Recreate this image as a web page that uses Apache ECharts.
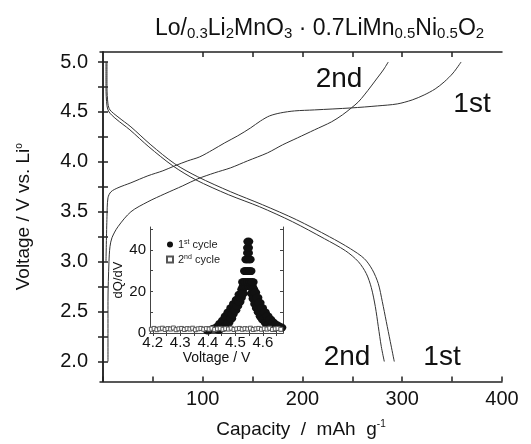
<!DOCTYPE html>
<html>
<head>
    <meta charset="utf-8" />
    <script src="https://cdn.jsdelivr.net/npm/echarts@6/dist/echarts.min.js"></script>
</head>
<body style="margin:0">
    <div id="main" style="width:531px;height:444px;"></div>
    <script type="text/javascript">
        // main panel: voltage (V) vs capacity (mAh/g), [capacity, voltage]
        var charge1st = [[3, 3.0], [4, 3.45], [5, 3.64], [8, 3.70], [15, 3.74], [28, 3.79], [45, 3.86], [60, 3.91], [72, 3.96],
            [85, 4.01], [97, 4.05], [110, 4.12], [122, 4.19], [135, 4.26], [148, 4.34], [158, 4.41], [167, 4.46], [178, 4.49],
            [192, 4.51], [212, 4.52], [249, 4.54], [275, 4.56], [295, 4.58], [310, 4.62], [322, 4.67], [333, 4.73], [342, 4.80],
            [351, 4.89], [359, 5.0]];
        var charge2nd = [[5, 2.0], [5, 2.6], [6, 3.0], [7, 3.15], [9, 3.24], [15, 3.35], [28, 3.50], [45, 3.60], [62, 3.68],
            [80, 3.76], [95, 3.83], [112, 3.89], [128, 3.94], [145, 4.01], [165, 4.09], [180, 4.17], [195, 4.24], [212, 4.32],
            [229, 4.40], [240, 4.47], [249, 4.54], [256, 4.60], [262, 4.67], [269, 4.76], [275, 4.84], [281, 4.92], [286, 5.0]];
        var discharge1st = [[4, 5.0], [4, 4.75], [5, 4.58], [7, 4.52], [15, 4.45], [28, 4.35], [48, 4.17], [72, 3.98], [95, 3.85],
            [128, 3.70], [160, 3.57], [194, 3.42], [227, 3.25], [248, 3.13], [262, 3.03], [270, 2.92], [276, 2.78], [280, 2.6],
            [284, 2.4], [288, 2.2], [292, 2.0]];
        var discharge2nd = [[3, 5.0], [3, 4.75], [4, 4.56], [6, 4.50], [13, 4.43], [27, 4.32], [46, 4.15], [70, 3.96], [93, 3.82],
            [126, 3.67], [157, 3.55], [190, 3.40], [222, 3.23], [243, 3.11], [256, 3.00], [264, 2.88], [269, 2.74], [273, 2.55],
            [276, 2.35], [279, 2.15], [282, 2.0]];

        // inset: dQ/dV vs voltage, [voltage, dQ/dV]
        var dqdv1st = [
            [4.40, 1.2], [4.42, 2.0], [4.435, 3.0], [4.445, 4.5], [4.455, 6.0], [4.465, 8.0], [4.475, 10.0], [4.485, 12.0],
            [4.495, 14.0], [4.505, 16.0], [4.515, 18.5], [4.525, 21.0],
            [4.44, 1.5], [4.455, 2.5], [4.465, 3.5], [4.475, 5.0], [4.485, 7.0], [4.49, 9.0], [4.50, 11.0], [4.507, 13.0],
            [4.515, 15.0], [4.52, 17.0], [4.527, 19.0],
            [4.53, 22.5], [4.54, 22.5], [4.55, 22.5], [4.56, 22.5],
            [4.528, 24.5], [4.537, 24.5], [4.546, 24.5], [4.555, 24.5], [4.563, 24.5],
            [4.535, 29.8], [4.545, 29.8], [4.555, 29.8],
            [4.54, 35.4], [4.552, 35.4],
            [4.546, 38.5], [4.546, 41.0], [4.547, 44.0],
            [4.56, 19.0], [4.566, 16.5], [4.572, 14.0], [4.578, 12.0], [4.585, 10.0], [4.592, 8.0], [4.60, 6.5], [4.61, 5.0],
            [4.62, 4.0], [4.63, 3.0], [4.64, 2.5],
            [4.565, 21.0], [4.572, 19.5], [4.58, 17.0], [4.588, 14.5], [4.597, 12.0], [4.607, 10.0], [4.617, 8.0], [4.627, 6.5],
            [4.637, 5.0], [4.647, 4.0], [4.657, 3.2], [4.667, 2.6]
        ];
        var dqdv2nd = [
            [4.195, 1.8], [4.205, 2.2], [4.215, 1.6], [4.225, 2.0], [4.235, 2.3], [4.245, 1.7], [4.255, 2.1], [4.265, 1.9],
            [4.275, 2.4], [4.285, 1.6], [4.295, 2.0], [4.305, 2.2], [4.315, 1.7], [4.325, 2.1], [4.335, 1.9], [4.345, 2.3],
            [4.355, 1.6], [4.365, 2.0], [4.375, 2.2], [4.385, 1.8], [4.395, 2.1], [4.405, 1.9], [4.415, 2.3], [4.425, 1.7],
            [4.435, 2.0], [4.445, 2.2], [4.455, 1.8], [4.465, 2.1], [4.475, 1.9], [4.485, 2.3], [4.495, 1.7], [4.505, 2.0],
            [4.515, 2.2], [4.525, 1.8], [4.535, 2.1], [4.545, 1.9], [4.555, 2.3], [4.565, 1.7], [4.575, 2.0], [4.585, 2.2],
            [4.595, 1.8], [4.605, 2.1], [4.615, 1.9], [4.625, 2.3], [4.635, 1.7], [4.645, 2.0], [4.655, 2.2], [4.665, 1.8]
        ];

        // ticks / labels
        var capTicksBottom = [0, 50, 100, 150, 200, 250, 300, 350, 400];
        var capTicksTop = [100, 150, 200, 250, 300, 350];
        var capLabels = [100, 200, 300, 400];
        var voltTicks = [2.0, 2.25, 2.5, 2.75, 3.0, 3.25, 3.5, 3.75, 4.0, 4.25, 4.5, 4.75, 5.0];
        var voltLabels = [2.0, 2.5, 3.0, 3.5, 4.0, 4.5, 5.0];
        var insetVTicks = [4.2, 4.25, 4.3, 4.35, 4.4, 4.45, 4.5, 4.55, 4.6, 4.65];
        var insetVLabels = [4.2, 4.3, 4.4, 4.5, 4.6];
        var insetQTicks = [0, 10, 20, 30, 40, 50];
        var insetQLabels = [0, 20, 40];

        var FONT = 'Liberation Sans, Arial, sans-serif';
        var INK = '#222';
        var axisLineStyle = { color: INK, width: 1.5 };

        var myChart = echarts.init(document.getElementById('main'));

        var mainLine = function (name, data) {
            return {
                name: name, type: 'line', xAxisIndex: 0, yAxisIndex: 0,
                data: data, showSymbol: false, smooth: 0.3,
                lineStyle: { color: '#333', width: 1 }, z: 3
            };
        };

        var option = {
            animation: false,
            backgroundColor: '#fff',
            textStyle: { fontFamily: FONT },
            title: {
                text: '{n|Lo/}{s|0.3}{n|Li}{s|2}{n|MnO}{s|3}{n| · 0.7LiMn}{s|0.5}{n|Ni}{s|0.5}{n|O}{s|2}',
                left: 150,
                top: 11,
                textStyle: {
                    fontWeight: 'normal',
                    rich: {
                        n: { fontSize: 23, lineHeight: 25, color: '#111', fontFamily: FONT, fontWeight: 'normal' },
                        s: { fontSize: 15, lineHeight: 14, verticalAlign: 'bottom', color: '#111', fontFamily: FONT, fontWeight: 'normal' }
                    }
                }
            },
            legend: {
                left: 161,
                top: 234,
                orient: 'vertical',
                itemGap: 4,
                itemWidth: 6,
                itemHeight: 6,
                data: ['1st cycle', '2nd cycle'],
                formatter: function (name) {
                    return name === '1st cycle' ? '1{p|st} cycle' : '2{p|nd} cycle';
                },
                textStyle: {
                    fontSize: 11, color: INK,
                    rich: { p: { fontSize: 7, verticalAlign: 'top', lineHeight: 7, color: INK } }
                }
            },
            grid: [
                { left: 100, right: 29, top: 52, bottom: 62 },
                { left: 150, right: 248, top: 227, bottom: 111, show: true, backgroundColor: '#fff', borderWidth: 0 }
            ],
            xAxis: [
                {
                    gridIndex: 0, type: 'value', min: -3, max: 400, position: 'bottom',
                    axisLine: { show: true, lineStyle: axisLineStyle },
                    axisTick: { show: true, inside: true, length: 5, customValues: capTicksBottom, lineStyle: axisLineStyle },
                    axisLabel: { customValues: capLabels, fontSize: 20, color: '#111', margin: 8 },
                    splitLine: { show: false },
                    name: '{n|Capacity  /  mAh  g}{p|-1}',
                    nameLocation: 'middle',
                    nameGap: 38,
                    nameTextStyle: {
                        rich: {
                            n: { fontSize: 19, lineHeight: 20, color: '#111', fontFamily: FONT },
                            p: { fontSize: 10, lineHeight: 10, verticalAlign: 'top', color: '#111', fontFamily: FONT }
                        }
                    }
                },
                {
                    gridIndex: 0, type: 'value', min: -3, max: 400, position: 'top',
                    axisLine: { show: true, lineStyle: axisLineStyle },
                    axisTick: { show: true, inside: true, length: 5, customValues: capTicksTop, lineStyle: axisLineStyle },
                    axisLabel: { show: false },
                    splitLine: { show: false }
                },
                {
                    gridIndex: 1, type: 'value', min: 4.19, max: 4.673, position: 'bottom',
                    axisLine: { show: true, lineStyle: { color: '#444', width: 1 } },
                    axisTick: { show: true, inside: true, length: 3, customValues: insetVTicks, lineStyle: { color: '#444' } },
                    axisLabel: { customValues: insetVLabels, fontSize: 15, color: '#111', margin: 2, formatter: function (v) { return v.toFixed(1); } },
                    splitLine: { show: false },
                    name: 'Voltage / V',
                    nameLocation: 'middle',
                    nameGap: 18,
                    nameTextStyle: { fontSize: 14, color: '#111' }
                },
                {
                    gridIndex: 1, type: 'value', min: 4.19, max: 4.673, position: 'top',
                    axisLine: { show: true, lineStyle: { color: '#444', width: 1 } },
                    axisTick: { show: true, inside: true, length: 3, customValues: insetVTicks, lineStyle: { color: '#444' } },
                    axisLabel: { show: false },
                    splitLine: { show: false }
                }
            ],
            yAxis: [
                {
                    gridIndex: 0, type: 'value', min: 1.8, max: 5.1, position: 'left',
                    axisLine: { show: true, lineStyle: axisLineStyle },
                    axisTick: { show: true, inside: true, length: 5, customValues: voltTicks, lineStyle: axisLineStyle },
                    axisLabel: { customValues: voltLabels, fontSize: 20, color: '#111', margin: 12, formatter: function (v) { return v.toFixed(1); } },
                    splitLine: { show: false },
                    name: '{n|Voltage / V vs. Li}{p|o}',
                    nameLocation: 'middle',
                    nameGap: 66,
                    nameTextStyle: {
                        rich: {
                            n: { fontSize: 19, lineHeight: 20, color: '#111', fontFamily: FONT },
                            p: { fontSize: 10, lineHeight: 10, verticalAlign: 'top', color: '#111', fontFamily: FONT }
                        }
                    }
                },
                {
                    gridIndex: 0, type: 'value', min: 1.8, max: 5.1, position: 'right',
                    axisLine: { show: true, lineStyle: axisLineStyle },
                    axisTick: { show: true, inside: true, length: 5, customValues: voltTicks, lineStyle: axisLineStyle },
                    axisLabel: { show: false },
                    splitLine: { show: false }
                },
                {
                    gridIndex: 1, type: 'value', min: 0, max: 51, position: 'left',
                    axisLine: { show: true, lineStyle: { color: '#444', width: 1 } },
                    axisTick: { show: true, inside: true, length: 3, customValues: insetQTicks, lineStyle: { color: '#444' } },
                    axisLabel: { customValues: insetQLabels, fontSize: 15, color: '#111', margin: 4 },
                    splitLine: { show: false },
                    name: 'dQ/dV',
                    nameLocation: 'middle',
                    nameGap: 24,
                    nameTextStyle: { fontSize: 13, color: '#111' }
                },
                {
                    gridIndex: 1, type: 'value', min: 0, max: 51, position: 'right',
                    axisLine: { show: true, lineStyle: { color: '#444', width: 1 } },
                    axisTick: { show: true, inside: true, length: 3, customValues: insetQTicks, lineStyle: { color: '#444' } },
                    axisLabel: { show: false },
                    splitLine: { show: false }
                }
            ],
            graphic: [
                { type: 'text', x: 339, y: 79, style: { text: '2nd', font: '28px ' + FONT, fill: '#111', textAlign: 'center', textVerticalAlign: 'middle' } },
                { type: 'text', x: 472, y: 104, style: { text: '1st', font: '28px ' + FONT, fill: '#111', textAlign: 'center', textVerticalAlign: 'middle' } },
                { type: 'text', x: 347, y: 357, style: { text: '2nd', font: '28px ' + FONT, fill: '#111', textAlign: 'center', textVerticalAlign: 'middle' } },
                { type: 'text', x: 442, y: 357, style: { text: '1st', font: '28px ' + FONT, fill: '#111', textAlign: 'center', textVerticalAlign: 'middle' } }
            ],
            series: [
                mainLine('charge 1st', charge1st),
                mainLine('charge 2nd', charge2nd),
                mainLine('discharge 1st', discharge1st),
                mainLine('discharge 2nd', discharge2nd),
                {
                    name: '1st cycle', type: 'scatter', xAxisIndex: 2, yAxisIndex: 2,
                    data: dqdv1st, symbol: 'circle', symbolSize: [10, 8],
                    itemStyle: { color: '#111', opacity: 1 }, z: 4
                },
                {
                    name: '2nd cycle', type: 'scatter', xAxisIndex: 2, yAxisIndex: 2,
                    data: dqdv2nd, symbol: 'rect', symbolSize: 4,
                    itemStyle: { color: '#fff', borderColor: '#555', borderWidth: 1, opacity: 1 }, z: 5
                }
            ]
        };

        myChart.setOption(option);
    </script>
</body>
</html>
